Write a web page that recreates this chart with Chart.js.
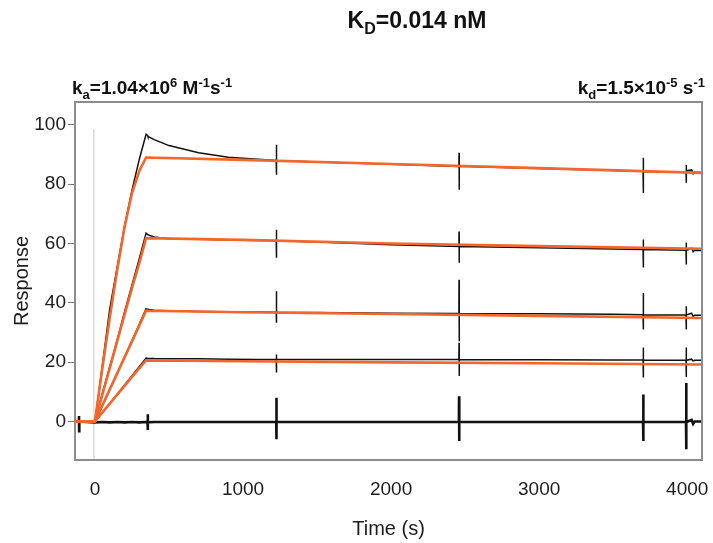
<!DOCTYPE html>
<html>
<head>
<meta charset="utf-8">
<script src="https://cdn.jsdelivr.net/npm/chart.js@4.4.1/dist/chart.umd.min.js"></script>
<style>
  html, body { margin: 0; padding: 0; background: #ffffff; }
  #wrap { position: relative; width: 713px; height: 543px; }
</style>
</head>
<body>
<div id="wrap"><canvas id="c" width="713" height="543"></canvas></div>
<script>
// ---------- data ----------
const time = [-135, -109, -108, -107, -106, -60, 0, 50, 100, 150, 200, 250, 300, 345, 355, 356, 357, 358,
  400, 500, 700, 900, 1100, 1224, 1225, 1226, 1227, 1500, 2000, 2458, 2459, 2460, 2461,
  3000, 3500, 3702, 3703, 3704, 3705, 3900, 3992, 3993, 3994, 3995, 4030, 4040, 4050, 4100];

const resp1 = [0, 0, 0, 0, 0, 0, 0, 19, 38, 52, 66, 78, 88.5, 96.8, 96.4, 96.3, 96.2, 96.1,
  95.0, 93.0, 90.6, 89.1, 88.4, 88.0, 93.3, 83.2, 88.0, 87.5, 86.7, 86.0, 90.6, 78.1, 86.0,
  85.3, 84.6, 84.4, 88.9, 77.0, 84.3, 84.1, 84.0, 86.5, 80.5, 84.5, 84.8, 83.5, 84.0, 83.9];

const resp2 = [0, 0, 0, 0, 0, 0, 0, 9.5, 18.5, 27.5, 37, 46, 55, 63.5, 63.0, 63.0, 63.0, 63.0,
  62.2, 61.6, 61.4, 61.2, 61.0, 60.9, 64.6, 55.2, 60.9, 60.5, 59.6, 59.0, 64.0, 53.5, 59.0,
  58.6, 58.1, 58.0, 61.3, 51.9, 58.0, 57.8, 57.7, 60.3, 52.9, 57.7, 58.4, 57.2, 57.7, 57.6];

const resp3 = [0, 0, 0, 0, 0, 0, 0, 5.3, 10.8, 16.3, 21.8, 27.3, 32.8, 38.0, 37.8, 37.8, 37.8, 37.8,
  37.5, 37.3, 37.1, 37.0, 36.9, 36.8, 43.9, 33.3, 36.8, 36.7, 36.5, 36.4, 47.8, 27.0, 36.4,
  36.3, 36.1, 36.0, 43.3, 31.0, 36.0, 35.9, 35.9, 38.8, 31.0, 35.9, 36.5, 35.4, 35.8, 35.8];

const resp4 = [0, 0, 0, 0, 0, 0, 0, 3.0, 6.1, 9.2, 12.3, 15.4, 18.5, 21.4, 21.3, 21.3, 21.3, 21.3,
  21.2, 21.1, 21.1, 21.0, 20.9, 20.9, 22.6, 16.5, 20.9, 20.9, 20.9, 20.9, 26.5, 15.3, 20.9,
  20.8, 20.7, 20.7, 24.9, 14.8, 20.7, 20.6, 20.6, 24.9, 15.0, 20.6, 21.0, 20.4, 20.6, 20.6];

const resp5 = [0, 0, 1.8, -3.3, 0, -0.2, -0.3, -0.2, -0.3, -0.2, -0.3, -0.2, -0.3, -0.2, -0.3, 2.4, -2.9, -0.3,
  -0.2, -0.2, -0.2, -0.2, -0.2, -0.2, 8.0, -6.0, -0.2, -0.2, -0.2, -0.2, 8.5, -6.6, -0.2,
  -0.2, -0.2, -0.2, 9.1, -6.6, -0.2, -0.2, -0.2, 13.0, -9.4, -0.2, 0.5, -0.8, 0.0, 0.0];

const fitTime = [-135, 0, 50, 100, 150, 200, 250, 300, 345, 1000, 2000, 3000, 4100];
const fit1 = [0, 0, 18.0, 35.0, 51.0, 65.5, 77.0, 84.5, 89.0, 88.2, 86.8, 85.4, 83.8];
const fit2 = [0, 0, 9.0, 18.0, 27.0, 36.0, 45.0, 53.5, 61.8, 61.2, 60.0, 59.1, 58.2];
const fit3 = [0, 0, 5.4, 10.8, 16.2, 21.6, 27.0, 32.4, 37.3, 36.8, 36.2, 35.6, 34.9];
const fit4 = [0, 0, 3.0, 6.0, 9.0, 12.0, 15.0, 18.0, 20.6, 20.3, 19.9, 19.6, 19.2];

const injTime = [-7, -7];
const injResp = [-13, 98.6];

const xTicks = [0, 1000, 2000, 3000, 4000];
const yTicks = [0, 20, 40, 60, 80, 100];

const titleParts = [["K", 0], ["D", 1], ["=0.014 nM", 0]];
const kaParts = [["k", 0], ["a", 1], ["=1.04\u00d710", 0], ["6", 2], [" M", 0], ["-1", 2], ["s", 0], ["-1", 2]];
const kdParts = [["k", 0], ["d", 1], ["=1.5\u00d710", 0], ["-5", 2], [" s", 0], ["-1", 2]];

// ---------- helpers ----------
const pts = (xs, ys) => xs.map((x, i) => ({ x: x, y: ys[i] }));
const BLACK = '#111111';
const ORANGE = '#f4662a';
const FAM = '"Liberation Sans", Arial, sans-serif';

function blackSet(ys, w) {
  return { data: pts(time, ys), borderColor: BLACK, borderWidth: w, pointRadius: 0, tension: 0, order: 2 };
}
function fitSet(ys) {
  return { data: pts(fitTime, ys), borderColor: ORANGE, borderWidth: 2.6, pointRadius: 0, tension: 0, order: 1 };
}

function drawRich(ctx, parts, x, y, size, align) {
  const specs = parts.map(([t, k]) => {
    const s = k === 0 ? size : Math.round(size * 0.68);
    const dy = k === 1 ? size * 0.25 : (k === 2 ? -size * 0.36 : 0);
    ctx.font = 'bold ' + s + 'px ' + FAM;
    return { t, s, dy, w: ctx.measureText(t).width };
  });
  const total = specs.reduce((a, b) => a + b.w, 0);
  let cx = align === 'right' ? x - total : (align === 'center' ? x - total / 2 : x);
  ctx.textBaseline = 'alphabetic';
  ctx.textAlign = 'left';
  ctx.fillStyle = '#111111';
  specs.forEach(sp => {
    ctx.font = 'bold ' + sp.s + 'px ' + FAM;
    ctx.fillText(sp.t, cx, y + sp.dy);
    cx += sp.w;
  });
}

const decor = {
  id: 'decor',
  afterDraw(chart) {
    const ctx = chart.ctx;
    const a = chart.chartArea;
    ctx.save();
    ctx.strokeStyle = '#8c8c8c';
    ctx.lineWidth = 2;
    ctx.strokeRect(a.left, a.top, a.right - a.left, a.bottom - a.top);
    drawRich(ctx, titleParts, 417, 28, 23, 'center');
    drawRich(ctx, kaParts, 72, 94, 19, 'left');
    drawRich(ctx, kdParts, 705, 94, 19, 'right');
    ctx.restore();
  }
};

const tickFont = { family: FAM, size: 19 };

new Chart(document.getElementById('c'), {
  type: 'line',
  data: {
    datasets: [
      { data: pts(injTime, injResp), borderColor: '#c8c8c8', borderWidth: 1, pointRadius: 0, order: 3 },
      blackSet(resp1, 1.5),
      blackSet(resp2, 1.5),
      blackSet(resp3, 1.5),
      blackSet(resp4, 1.5),
      blackSet(resp5, 2.6),
      fitSet(fit1),
      fitSet(fit2),
      fitSet(fit3),
      fitSet(fit4)
    ]
  },
  options: {
    responsive: false,
    animation: false,
    devicePixelRatio: 1,
    layout: { padding: { top: 102, right: 11, left: 0, bottom: 0 } },
    plugins: { legend: { display: false }, tooltip: { enabled: false }, title: { display: false } },
    scales: {
      x: {
        type: 'linear', min: -135, max: 4100,
        afterBuildTicks: s => { s.ticks = xTicks.map(v => ({ value: v })); },
        afterFit: s => { s.height = 83; s.paddingLeft = 0; s.paddingRight = 0; },
        grid: { display: false, drawTicks: false },
        border: { display: false },
        ticks: { font: tickFont, color: '#1c1c1c', padding: 18, maxRotation: 0, callback: v => String(v) },
        title: { display: true, text: 'Time (s)', font: { family: FAM, size: 20 }, color: '#1c1c1c', padding: { top: 0, bottom: 2 } }
      },
      y: {
        type: 'linear', min: -13, max: 107.7,
        afterBuildTicks: s => { s.ticks = yTicks.map(v => ({ value: v })); },
        afterFit: s => { s.width = 75; s.paddingTop = 0; s.paddingBottom = 0; },
        grid: { drawOnChartArea: false, drawTicks: true, tickLength: 7, color: '#777777' },
        border: { display: false },
        ticks: { font: tickFont, color: '#1c1c1c', padding: 2, callback: v => String(v) },
        title: { display: true, text: 'Response', font: { family: FAM, size: 20 }, color: '#1c1c1c', padding: { top: 10, bottom: 0 } }
      }
    }
  },
  plugins: [decor]
});
</script>
</body>
</html>
